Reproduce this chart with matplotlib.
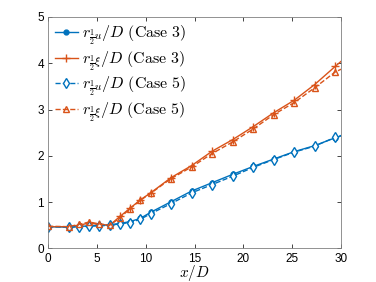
import matplotlib

matplotlib.use("Agg")
import matplotlib.pyplot as plt

plt.rcParams["mathtext.fontset"] = "cm"
plt.rcParams["font.family"] = ["Liberation Sans", "DejaVu Sans"]

BLUE = "#0072BD"
ORANGE = "#D95319"

x_d = [0, 2.1, 3.15, 4.2, 5.25, 6.3, 7.35, 8.4, 9.45, 10.5, 12.6, 14.7,
       16.8, 18.9, 21.0, 23.1, 25.2, 27.3, 29.4, 30.0]
ru_case3 = [0.47, 0.46, 0.47, 0.49, 0.50, 0.51, 0.54, 0.58, 0.65, 0.78, 1.01, 1.24,
            1.42, 1.60, 1.77, 1.93, 2.09, 2.22, 2.39, 2.43]
rxi_case3 = [0.47, 0.47, 0.50, 0.55, 0.52, 0.50, 0.69, 0.87, 1.05, 1.20, 1.53, 1.79,
             2.10, 2.35, 2.63, 2.93, 3.20, 3.54, 3.93, 4.04]
ru_case5 = [0.47, 0.46, 0.47, 0.48, 0.49, 0.50, 0.53, 0.56, 0.63, 0.75, 0.97, 1.20,
            1.38, 1.56, 1.75, 1.92, 2.08, 2.21, 2.40, 2.44]
rxi_case5 = [0.48, 0.47, 0.52, 0.57, 0.53, 0.50, 0.66, 0.86, 1.04, 1.19, 1.51, 1.76,
             2.05, 2.30, 2.58, 2.89, 3.15, 3.47, 3.81, 3.87]

marks = list(range(len(x_d) - 1))


def _plot():
    fig = plt.figure(figsize=(3.76, 2.82), dpi=100)
    ax = fig.add_axes([0.128, 0.119, 0.779, 0.821])
    ax.plot(x_d, ru_case3, "-", color=BLUE, marker="o", ms=3.5, lw=1,
            markevery=marks, label=r"$r_{\frac{1}{2}u}/D\ \mathrm{(Case\ 3)}$")
    ax.plot(x_d, rxi_case3, "-", color=ORANGE, marker="+", ms=6, lw=1,
            markevery=marks, label=r"$r_{\frac{1}{2}\xi}/D\ \mathrm{(Case\ 3)}$")
    ax.plot(x_d, ru_case5, "--", color=BLUE, marker="d", ms=5, lw=1, mfc="white",
            markevery=marks, label=r"$r_{\frac{1}{2}u}/D\ \mathrm{(Case\ 5)}$")
    ax.plot(x_d, rxi_case5, "--", color=ORANGE, marker="^", ms=5, lw=1, mfc="none",
            markevery=marks, label=r"$r_{\frac{1}{2}\xi}/D\ \mathrm{(Case\ 5)}$")
    ax.set_xlim(0, 30)
    ax.set_ylim(0, 5)
    ax.set_xticks(range(0, 31, 5))
    ax.set_yticks(range(0, 6))
    ax.tick_params(direction="in", top=True, right=True, labelsize=8.5,
                   length=3, color="#262626", width=0.6, pad=3)
    for s in ax.spines.values():
        s.set_color("#808080")
        s.set_linewidth(0.6)
    ax.set_xlabel(r"$x/D$", fontsize=11, labelpad=-1)
    ax.legend(loc="upper left", frameon=False, fontsize=11.5, handlelength=1.5,
              handletextpad=0.2, labelspacing=0.15, borderaxespad=0.1,
              borderpad=0.3)
    fig.savefig("out.png", dpi=100)
    plt.close(fig)


if __name__ == "__main__":
    _plot()
